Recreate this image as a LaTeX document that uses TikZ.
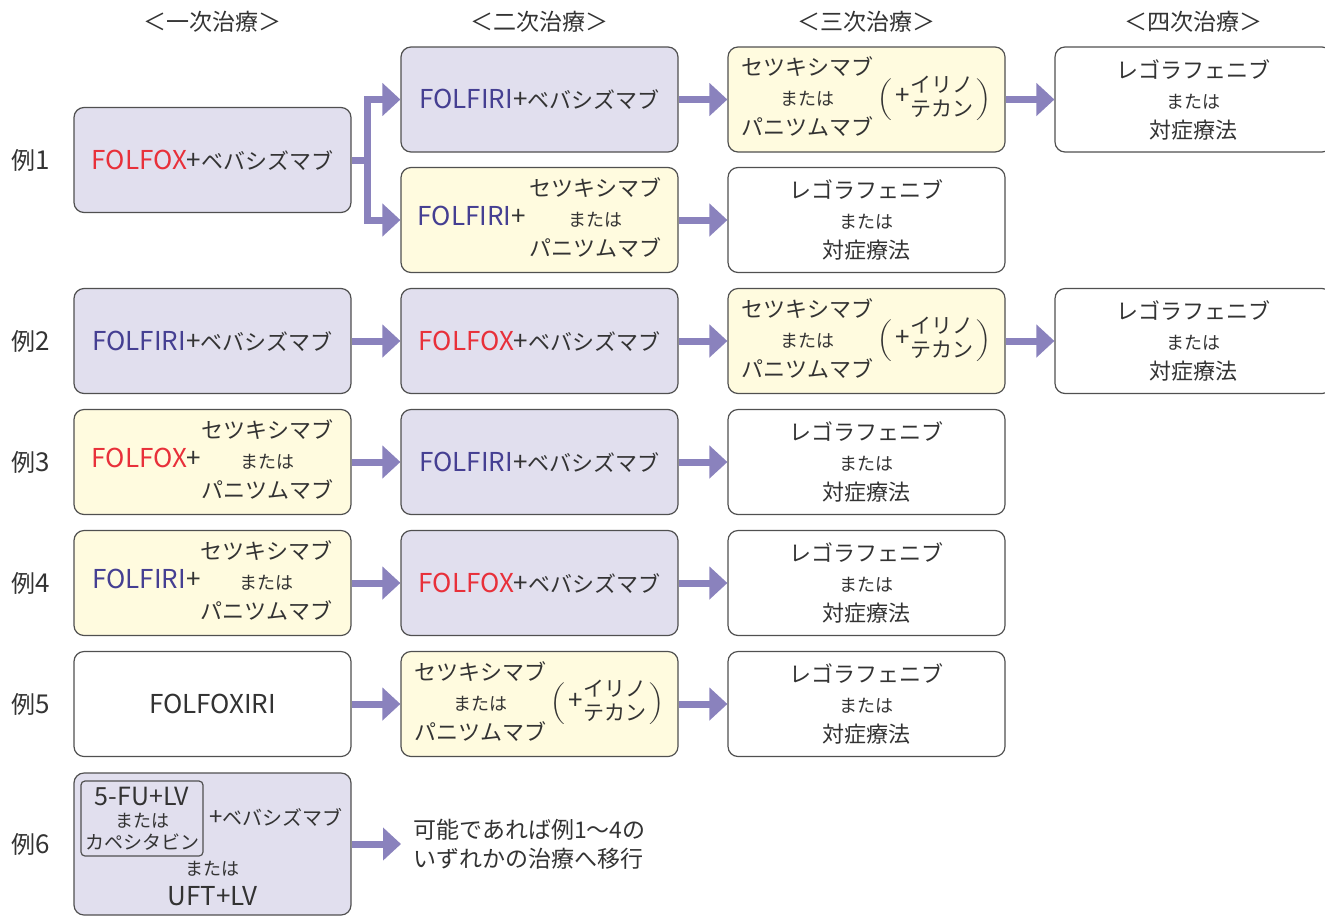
\documentclass[tikz,border=0pt]{standalone}
\usepackage{fontspec}
\setmainfont{Noto Sans CJK JP}
\usepackage{xcolor}
\usepackage{graphicx}
\usepackage{tikz}
\usetikzlibrary{arrows.meta, positioning, calc}
\definecolor{rxpurple}{HTML}{E1DFEE}
\definecolor{rxyellow}{HTML}{FFFBDF}
\definecolor{rxarrow}{HTML}{8A82BD}
\definecolor{rxred}{HTML}{E8303A}
\definecolor{rxblue}{HTML}{453F92}
\definecolor{rxborder}{HTML}{505050}
\definecolor{rxtext}{HTML}{333333}

\newcommand{\lat}[1]{{\fontsize{13}{15}\selectfont #1}}
\newcommand{\fox}{\lat{\textcolor{rxred}{FOLFOX}}}
\newcommand{\firi}{\lat{\textcolor{rxblue}{FOLFIRI}}}
\newcommand{\orword}{{\fontsize{9}{15}\selectfont または}}
\newcommand{\antiegfr}{\begin{tabular}{@{}c@{}}セツキシマブ\\\orword\\パニツムマブ\end{tabular}}
\newcommand{\tallparen}[1]{$\vcenter{\hbox{\scalebox{1}[0.87]{$\bigg#1$}}}$}
\newcommand{\irino}{\,\tallparen{(}\,\lat{+}{\fontsize{10.5}{12}\selectfont\begin{tabular}{@{}c@{}}イリノ\\テカン\end{tabular}}\,\tallparen{)}}

\begin{document}
\begin{tikzpicture}[
    x=0.5pt, y=-0.5pt,
    rxbox/.style={rectangle, rounded corners=5pt, draw=rxborder, line width=0.6pt, minimum width=138.5pt, minimum height=52.5pt, inner sep=2pt, align=center, text=rxtext, font=\fontsize{11}{15}\selectfont},
    purplebox/.style={rxbox, fill=rxpurple},
    yellowbox/.style={rxbox, fill=rxyellow},
    whitebox/.style={rxbox, fill=white},
    innerbox/.style={rectangle, rounded corners=2pt, draw=rxborder, line width=0.6pt, minimum width=61pt, minimum height=37.5pt, inner sep=1pt, align=center, text=rxtext, font=\fontsize{9.5}{11}\selectfont},
    plaintext/.style={text=rxtext, font=\fontsize{11}{15}\selectfont, inner sep=1pt},
    flowline/.style={draw=rxarrow, line width=3.5pt},
    flowarrow/.style={flowline, -{Triangle[length=9pt, width=16pt]}},
    rowlabel/.style={text=rxtext, font=\fontsize{12}{14}\selectfont},
    header/.style={text=rxtext, font=\fontsize{11.5}{14}\selectfont},
]
\useasboundingbox (0,0) rectangle (1325,916);

% Column headers
\node[header] (h1) at (212.5,22) {＜一次治療＞};
\node[header] (h2) at (539.5,22) {＜二次治療＞};
\node[header] (h3) at (866.5,22) {＜三次治療＞};
\node[header] (h4) at (1193.5,22) {＜四次治療＞};

% Row labels
\node[rowlabel] (l1) at (31,160) {例\lat{1}};
\node[rowlabel] (l2) at (31,341) {例\lat{2}};
\node[rowlabel] (l3) at (31,462) {例\lat{3}};
\node[rowlabel] (l4) at (31,583) {例\lat{4}};
\node[rowlabel] (l5) at (31,704) {例\lat{5}};
\node[rowlabel] (l6) at (31,844) {例\lat{6}};

% Example 1
\node[purplebox] (ex1a) at (212.5,160) {\fox\lat{+}ベバシズマブ};
\node[purplebox] (ex1b) at (539.5,99.5) {\firi\lat{+}ベバシズマブ};
\node[yellowbox] (ex1c) at (866.5,99.5) {\antiegfr\irino};
\node[whitebox] (ex1d) at (1193.5,99.5) {レゴラフェニブ\\\orword\\対症療法};
\node[yellowbox] (ex1e) at (539.5,220) {\firi\lat{+}\,\antiegfr};
\node[whitebox] (ex1f) at (866.5,220) {レゴラフェニブ\\\orword\\対症療法};
\coordinate (split1) at (367,160);
\draw[flowline] (ex1a) -- (split1);
\draw[flowarrow] (split1) |- (ex1b);
\draw[flowarrow] (split1) |- (ex1e);
\draw[flowarrow] (ex1b) -- (ex1c);
\draw[flowarrow] (ex1c) -- (ex1d);
\draw[flowarrow] (ex1e) -- (ex1f);

% Example 2
\node[purplebox] (ex2a) at (212.5,341) {\firi\lat{+}ベバシズマブ};
\node[purplebox] (ex2b) at (539.5,341) {\fox\lat{+}ベバシズマブ};
\node[yellowbox] (ex2c) at (866.5,341) {\antiegfr\irino};
\node[whitebox] (ex2d) at (1193.5,341) {レゴラフェニブ\\\orword\\対症療法};
\draw[flowarrow] (ex2a) -- (ex2b);
\draw[flowarrow] (ex2b) -- (ex2c);
\draw[flowarrow] (ex2c) -- (ex2d);

% Example 3
\node[yellowbox] (ex3a) at (212.5,462) {\fox\lat{+}\antiegfr};
\node[purplebox] (ex3b) at (539.5,462) {\firi\lat{+}ベバシズマブ};
\node[whitebox] (ex3c) at (866.5,462) {レゴラフェニブ\\\orword\\対症療法};
\draw[flowarrow] (ex3a) -- (ex3b);
\draw[flowarrow] (ex3b) -- (ex3c);

% Example 4
\node[yellowbox] (ex4a) at (212.5,583) {\firi\lat{+}\antiegfr};
\node[purplebox] (ex4b) at (539.5,583) {\fox\lat{+}ベバシズマブ};
\node[whitebox] (ex4c) at (866.5,583) {レゴラフェニブ\\\orword\\対症療法};
\draw[flowarrow] (ex4a) -- (ex4b);
\draw[flowarrow] (ex4b) -- (ex4c);

% Example 5
\node[whitebox] (ex5a) at (212.5,704) {\lat{FOLFOXIRI}};
\node[yellowbox] (ex5b) at (539.5,704) {\antiegfr\irino};
\node[whitebox] (ex5c) at (866.5,704) {レゴラフェニブ\\\orword\\対症療法};
\draw[flowarrow] (ex5a) -- (ex5b);
\draw[flowarrow] (ex5b) -- (ex5c);

% Example 6
\node[purplebox, minimum height=71pt] (ex6a) at (212.5,844) {};
\node[innerbox] (ex6fu) at (142,818.5) {{\fontsize{12.5}{11}\selectfont 5-FU+LV}\\{\fontsize{9}{11}\selectfont または}\\カペシタビン};
\node[plaintext, anchor=west, font=\fontsize{10}{15}\selectfont] (ex6bev) at (207,817) {{\fontsize{12}{15}\selectfont +}ベバシズマブ};
\node[plaintext, font=\fontsize{9}{11}\selectfont] (ex6or) at (212.5,869) {または};
\node[plaintext] (ex6uft) at (212.5,896) {\lat{UFT+LV}};
\node[plaintext, anchor=west, align=left, inner xsep=6pt, font=\fontsize{11.5}{14.5}\selectfont] (ex6b) at (401,844) {可能であれば例1～4の\\いずれかの治療へ移行};
\draw[flowarrow] (ex6a) -- (ex6b);

\end{tikzpicture}
\end{document}
